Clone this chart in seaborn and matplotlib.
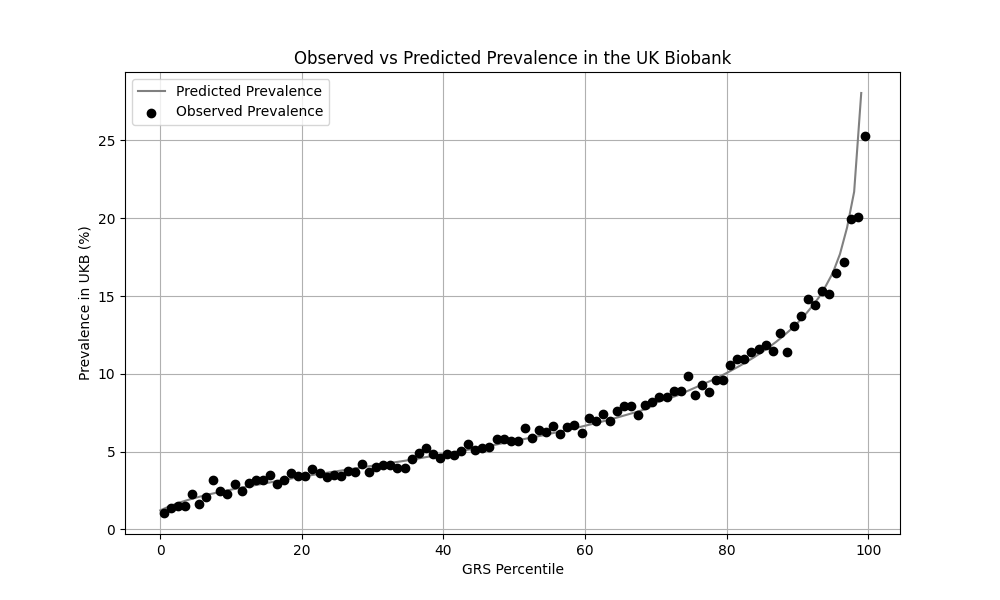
import matplotlib
matplotlib.use("Agg")
import matplotlib.pyplot as plt
import seaborn as sns
import pandas as pd

# Observed prevalence at percentile midpoints 0.5 ... 99.5
obs_x = [i + 0.5 for i in range(100)]
obs_y = [
    1.05, 1.35, 1.50, 1.50, 2.30, 1.65, 2.05, 3.15, 2.45, 2.30,
    2.90, 2.45, 3.00, 3.20, 3.15, 3.50, 2.90, 3.20, 3.65, 3.40,
    3.40, 3.90, 3.65, 3.35, 3.50, 3.40, 3.75, 3.70, 4.20, 3.70,
    4.00, 4.15, 4.15, 3.95, 3.95, 4.55, 4.90, 5.20, 4.85, 4.60,
    4.85, 4.80, 5.05, 5.50, 5.10, 5.25, 5.30, 5.80, 5.80, 5.65,
    5.70, 6.50, 5.90, 6.40, 6.25, 6.65, 6.15, 6.60, 6.70, 6.20,
    7.15, 6.95, 7.40, 6.95, 7.60, 7.90, 7.90, 7.35, 8.00, 8.20,
    8.50, 8.50, 8.90, 8.90, 9.85, 8.65, 9.25, 8.80, 9.60, 9.60,
    10.55, 10.95, 10.95, 11.40, 11.60, 11.85, 11.45, 12.60, 11.40, 13.10,
    13.70, 14.80, 14.45, 15.30, 15.10, 16.50, 17.20, 19.95, 20.05, 25.30,
]

# Predicted prevalence at percentiles 0 ... 99
pred_x = list(range(100))
pred_y = [
    1.22, 1.42, 1.60, 1.76, 1.90, 2.03, 2.15, 2.26, 2.36, 2.46,
    2.55, 2.64, 2.73, 2.81, 2.89, 2.97, 3.06, 3.14, 3.22, 3.31,
    3.39, 3.46, 3.53, 3.60, 3.67, 3.74, 3.81, 3.88, 3.95, 4.02,
    4.09, 4.16, 4.23, 4.30, 4.37, 4.44, 4.52, 4.60, 4.68, 4.76,
    4.84, 4.92, 5.00, 5.08, 5.16, 5.24, 5.32, 5.41, 5.50, 5.59,
    5.68, 5.77, 5.86, 5.95, 6.04, 6.14, 6.24, 6.34, 6.44, 6.55,
    6.66, 6.77, 6.88, 7.00, 7.12, 7.25, 7.38, 7.51, 7.65, 7.80,
    8.15, 8.30, 8.45, 8.60, 8.80, 9.00, 9.20, 9.40, 9.60, 9.82,
    10.05, 10.30, 10.55, 10.82, 11.10, 11.40, 11.72, 12.06, 12.43, 12.83,
    13.27, 13.75, 14.30, 14.90, 15.65, 16.50, 17.70, 19.40, 21.70, 28.05,
]

pred_df = pd.DataFrame({"pct": pred_x, "prev": pred_y})
obs_df = pd.DataFrame({"pct": obs_x, "prev": obs_y})

fig, ax = plt.subplots(figsize=(10, 6), dpi=100)
sns.lineplot(data=pred_df, x="pct", y="prev", color="grey", linewidth=1.5,
             label="Predicted Prevalence", ax=ax)
sns.scatterplot(data=obs_df, x="pct", y="prev", color="black", s=36,
                edgecolor="black", linewidth=1.0,
                label="Observed Prevalence", ax=ax, zorder=3)

ax.set_title("Observed vs Predicted Prevalence in the UK Biobank", fontsize=12)
ax.set_xlabel("GRS Percentile")
ax.set_ylabel("Prevalence in UKB (%)")
ax.grid(True, color="#b0b0b0", linewidth=0.8)
ax.set_axisbelow(True)
ax.legend(loc="upper left")

fig.savefig("out.png", dpi=100)
